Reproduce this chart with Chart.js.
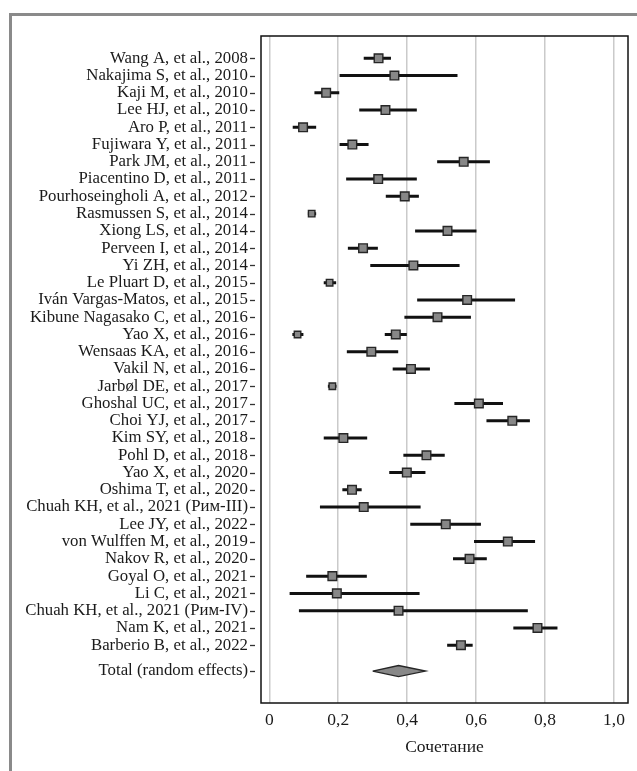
<!DOCTYPE html>
<html>
<head>
<meta charset="utf-8">
<script src="https://cdn.jsdelivr.net/npm/chart.js@4/dist/chart.umd.min.js"></script>
<style>
  html, body { margin: 0; padding: 0; background: #ffffff; }
  #wrap { position: relative; width: 637px; height: 771px; overflow: hidden; }
  #frame { position: absolute; left: 9px; top: 13px; width: 700px; height: 800px;
           border-left: 3px solid #8a8a8a; border-top: 3px solid #8a8a8a; box-sizing: border-box; }
  #chart { position: absolute; left: 0; top: 0; }
</style>
</head>
<body>
<div id="wrap">
  <div id="frame"></div>
  <canvas id="chart" width="637" height="771"></canvas>
</div>
<script>
// Study rows, top to bottom
const studies = [
  'Wang A, et al., 2008', 'Nakajima S, et al., 2010', 'Kaji M, et al., 2010', 'Lee HJ, et al., 2010',
  'Aro P, et al., 2011', 'Fujiwara Y, et al., 2011', 'Park JM, et al., 2011', 'Piacentino D, et al., 2011',
  'Pourhoseingholi A, et al., 2012', 'Rasmussen S, et al., 2014', 'Xiong LS, et al., 2014', 'Perveen I, et al., 2014',
  'Yi ZH, et al., 2014', 'Le Pluart D, et al., 2015', 'Iván Vargas-Matos, et al., 2015', 'Kibune Nagasako C, et al., 2016',
  'Yao X, et al., 2016', 'Wensaas KA, et al., 2016', 'Vakil N, et al., 2016', 'Jarbøl DE, et al., 2017',
  'Ghoshal UC, et al., 2017', 'Choi YJ, et al., 2017', 'Kim SY, et al., 2018', 'Pohl D, et al., 2018',
  'Yao X, et al., 2020', 'Oshima T, et al., 2020', 'Chuah KH, et al., 2021 (Рим-III)', 'Lee JY, et al., 2022',
  'von Wulffen M, et al., 2019', 'Nakov R, et al., 2020', 'Goyal O, et al., 2021', 'Li C, et al., 2021',
  'Chuah KH, et al., 2021 (Рим-IV)', 'Nam K, et al., 2021', 'Barberio B, et al., 2022'
];

// One entry per estimate (the 2016 Yao X row carries two estimates)
const markStudy = [
  'Wang A, et al., 2008', 'Nakajima S, et al., 2010', 'Kaji M, et al., 2010', 'Lee HJ, et al., 2010',
  'Aro P, et al., 2011', 'Fujiwara Y, et al., 2011', 'Park JM, et al., 2011', 'Piacentino D, et al., 2011',
  'Pourhoseingholi A, et al., 2012', 'Rasmussen S, et al., 2014', 'Xiong LS, et al., 2014', 'Perveen I, et al., 2014',
  'Yi ZH, et al., 2014', 'Le Pluart D, et al., 2015', 'Iván Vargas-Matos, et al., 2015', 'Kibune Nagasako C, et al., 2016',
  'Yao X, et al., 2016', 'Yao X, et al., 2016', 'Wensaas KA, et al., 2016', 'Vakil N, et al., 2016', 'Jarbøl DE, et al., 2017',
  'Ghoshal UC, et al., 2017', 'Choi YJ, et al., 2017', 'Kim SY, et al., 2018', 'Pohl D, et al., 2018',
  'Yao X, et al., 2020', 'Oshima T, et al., 2020', 'Chuah KH, et al., 2021 (Рим-III)', 'Lee JY, et al., 2022',
  'von Wulffen M, et al., 2019', 'Nakov R, et al., 2020', 'Goyal O, et al., 2021', 'Li C, et al., 2021',
  'Chuah KH, et al., 2021 (Рим-IV)', 'Nam K, et al., 2021', 'Barberio B, et al., 2022'
];
const estimate = [
  0.317, 0.363, 0.165, 0.337, 0.098, 0.241, 0.564, 0.316, 0.393, 0.123, 0.517, 0.272,
  0.418, 0.175, 0.574, 0.488, 0.082, 0.367, 0.296, 0.411, 0.183, 0.608, 0.705, 0.215,
  0.456, 0.399, 0.240, 0.274, 0.512, 0.692, 0.581, 0.183, 0.196, 0.375, 0.778, 0.556
];
const lower = [
  0.274, 0.204, 0.131, 0.261, 0.068, 0.204, 0.487, 0.223, 0.338, 0.112, 0.423, 0.228,
  0.293, 0.158, 0.429, 0.392, 0.067, 0.335, 0.225, 0.358, 0.170, 0.537, 0.630, 0.158,
  0.389, 0.348, 0.212, 0.147, 0.409, 0.594, 0.533, 0.107, 0.059, 0.086, 0.708, 0.516
];
const upper = [
  0.353, 0.546, 0.203, 0.428, 0.136, 0.288, 0.640, 0.428, 0.434, 0.136, 0.601, 0.315,
  0.552, 0.194, 0.713, 0.585, 0.099, 0.399, 0.374, 0.466, 0.195, 0.678, 0.756, 0.284,
  0.509, 0.453, 0.268, 0.439, 0.614, 0.771, 0.631, 0.283, 0.436, 0.750, 0.836, 0.590
];

// Pooled estimate
const totalLabel = 'Total (random effects)';
const totalEstimate = 0.375;
const totalLower = 0.300;
const totalUpper = 0.453;

// Axis
const xTickValues = [0, 0.2, 0.4, 0.6, 0.8, 1.0];
const xTickLabels = ['0', '0,2', '0,4', '0,6', '0,8', '1,0'];
const xTitle = 'Сочетание';

// Row layout: studies at 0..n-1, the pooled row sits 1.5 rows below the last study
const totalRow = studies.length - 1 + 1.5;
const rowLabels = studies.concat([totalLabel]);
const rowValues = studies.map((_, i) => i).concat([totalRow]);
const markRow = markStudy.map(s => studies.indexOf(s));

const SERIF = '"Liberation Serif", "Times New Roman", serif';
const INK = '#1a1a1a';

const squares = estimate.map((v, i) => ({ x: v, y: markRow[i] }));
const ciSegments = [];
estimate.forEach((v, i) => {
  ciSegments.push({ x: lower[i], y: markRow[i] });
  ciSegments.push({ x: upper[i], y: markRow[i] });
  ciSegments.push({ x: null, y: null });
});
const dh = 0.32;
const diamond = [
  { x: totalLower, y: totalRow },
  { x: totalEstimate, y: totalRow - dh },
  { x: totalUpper, y: totalRow },
  { x: totalEstimate, y: totalRow + dh },
  { x: totalLower, y: totalRow }
];

// Plot frame and the short row ticks standing off the left edge
const framePlugin = {
  id: 'frameAndTicks',
  afterDraw(chart) {
    const { ctx, chartArea: a, scales } = chart;
    ctx.save();
    ctx.strokeStyle = '#111';
    ctx.lineWidth = 1.5;
    ctx.strokeRect(a.left, a.top, a.right - a.left, a.bottom - a.top);
    ctx.strokeStyle = '#333';
    ctx.lineWidth = 1.3;
    scales.y.ticks.forEach(t => {
      const y = Math.round(scales.y.getPixelForValue(t.value)) + 0.5;
      ctx.beginPath();
      ctx.moveTo(a.left - 11, y);
      ctx.lineTo(a.left - 6, y);
      ctx.stroke();
    });
    ctx.restore();
  }
};

new Chart(document.getElementById('chart'), {
  type: 'scatter',
  data: {
    datasets: [
      {
        label: 'estimate',
        data: squares,
        order: 0,
        pointStyle: 'rect',
        backgroundColor: '#878787',
        borderColor: '#262626',
        borderWidth: 1.4,
        pointRadius: (c) => {
          const i = c.dataIndex;
          return (upper[i] - lower[i]) < 0.045 ? 4.6 : 6.1;
        }
      },
      {
        label: 'ci',
        data: ciSegments,
        order: 1,
        showLine: true,
        spanGaps: false,
        borderColor: '#111',
        borderWidth: 3,
        borderCapStyle: 'butt',
        pointRadius: 0
      },
      {
        label: 'pooled',
        data: diamond,
        order: 2,
        showLine: true,
        fill: 'shape',
        backgroundColor: '#888888',
        borderColor: '#262626',
        borderWidth: 1.4,
        tension: 0,
        pointRadius: 0
      }
    ]
  },
  options: {
    responsive: false,
    animation: false,
    events: [],
    layout: { padding: { top: 36, right: 9, left: 0, bottom: 0 } },
    plugins: { legend: { display: false }, tooltip: { enabled: false } },
    scales: {
      x: {
        type: 'linear',
        min: -0.024,
        max: 1.0406,
        afterFit: (s) => { s.height = 68; },
        afterBuildTicks: (s) => { s.ticks = xTickValues.map(v => ({ value: v })); },
        grid: { color: '#cacaca', lineWidth: 1.5, drawTicks: false },
        border: { display: false },
        ticks: {
          padding: 7,
          color: INK,
          font: { family: SERIF, size: 17.5 },
          callback: (v, i) => xTickLabels[i]
        },
        title: {
          display: true,
          text: xTitle,
          color: INK,
          font: { family: SERIF, size: 17.5 },
          padding: { top: 7, bottom: 13 }
        }
      },
      y: {
        type: 'linear',
        reverse: true,
        min: -1.29,
        max: totalRow + 1.85,
        afterFit: (s) => { s.width = 261; },
        afterBuildTicks: (s) => { s.ticks = rowValues.map(v => ({ value: v })); },
        grid: { display: false, drawTicks: false },
        border: { display: false },
        ticks: {
          autoSkip: false,
          padding: 13,
          color: INK,
          font: { family: SERIF, size: 16.8 },
          callback: (v, i) => rowLabels[i]
        }
      }
    }
  },
  plugins: [framePlugin]
});
</script>
</body>
</html>
